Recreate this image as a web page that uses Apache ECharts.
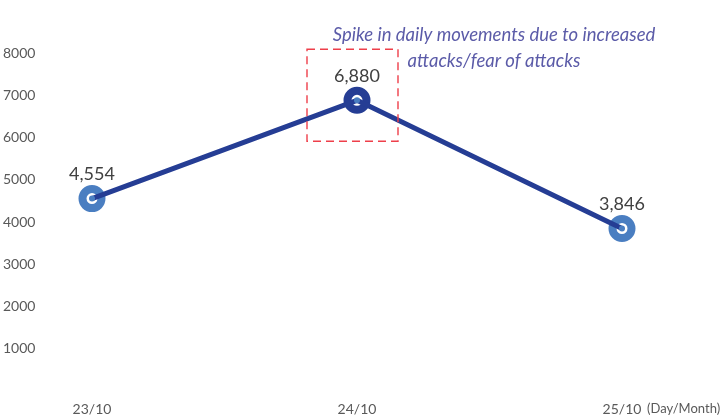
<!DOCTYPE html>
<html>
<head>
<meta charset="utf-8">
<script src="https://cdn.jsdelivr.net/npm/echarts@6/dist/echarts.min.js"></script>
<style>
  html, body { margin: 0; padding: 0; background: #fff; }
  #chart { width: 723px; height: 417px; }
</style>
</head>
<body>
<div id="chart"></div>
<script>
// data
const days = ['23/10', '24/10', '25/10'];
const movements = [4554, 6880, 3846];
const spikeIndex = 1;
const noteLines = ['Spike in daily movements due to increased', 'attacks/fear of attacks'];

const FONT = 'Lato, "Open Sans", sans-serif';
const lineColor = '#253D94';
const ringColor = '#4A7EC1';

const myChart = echarts.init(document.getElementById('chart'));

const rings = movements.map((v, i) => ({
    value: [i, v],
    itemStyle: { borderColor: i === spikeIndex ? lineColor : ringColor }
}));

myChart.setOption({
    animation: false,
    grid: { left: 92, right: 101, top: 53, bottom: 26, outerBoundsMode: 'none', containLabel: false },
    xAxis: {
        type: 'category',
        data: days,
        boundaryGap: false,
        axisLine: { show: false },
        axisTick: { show: false },
        axisLabel: { color: '#595959', fontFamily: FONT, fontSize: 14, margin: 11 },
        name: '(Day/Month)',
        nameLocation: 'end',
        nameGap: 25,
        nameMoveOverlap: false,
        nameTextStyle: { color: '#595959', fontFamily: FONT, fontSize: 13, align: 'left', verticalAlign: 'top', padding: [11, 0, 0, 0] }
    },
    yAxis: {
        type: 'value',
        min: 0,
        max: 8000,
        interval: 1000,
        splitLine: { show: false },
        axisLine: { show: false },
        axisTick: { show: false },
        axisLabel: {
            color: '#595959', fontFamily: FONT, fontSize: 14, align: 'left', margin: 89,
            formatter: v => (v === 0 ? '' : String(v))
        }
    },
    series: [
        {
            type: 'scatter',
            data: rings,
            z: 1,
            symbol: 'circle',
            symbolSize: 19,
            itemStyle: { color: '#fff', borderWidth: 8, opacity: 1 },
            label: {
                show: true,
                position: 'top',
                distance: 2,
                color: '#404040',
                fontFamily: FONT,
                fontSize: 18,
                formatter: p => p.value[1].toLocaleString('en-US')
            }
        },
        {
            type: 'line',
            data: movements,
            z: 2,
            symbol: 'none',
            lineStyle: { color: lineColor, width: 5 }
        },
        {
            type: 'scatter',
            data: movements,
            z: 3,
            symbol: 'circle',
            symbolSize: 6,
            itemStyle: { color: ringColor, opacity: 1 },
            silent: true
        }
    ]
});

// annotation box around the spike, positioned from the data point
const [px, py] = myChart.convertToPixel({ seriesIndex: 1 }, [spikeIndex, movements[spikeIndex]]);
myChart.setOption({
    graphic: [
        {
            type: 'rect',
            shape: { x: px - 50, y: py - 51, width: 91, height: 92 },
            style: { fill: 'none', stroke: '#EE3F4A', lineWidth: 1.4, lineDash: [8, 5] },
            z: 10
        },
        {
            type: 'text',
            x: 494, y: 35,
            style: {
                text: noteLines[0], fill: '#5B5BA8', font: 'italic 18.5px ' + FONT,
                textAlign: 'center', textVerticalAlign: 'middle'
            }
        },
        {
            type: 'text',
            x: 494, y: 61,
            style: {
                text: noteLines[1], fill: '#5B5BA8', font: 'italic 18.5px ' + FONT,
                textAlign: 'center', textVerticalAlign: 'middle'
            }
        }
    ]
});
</script>
</body>
</html>
